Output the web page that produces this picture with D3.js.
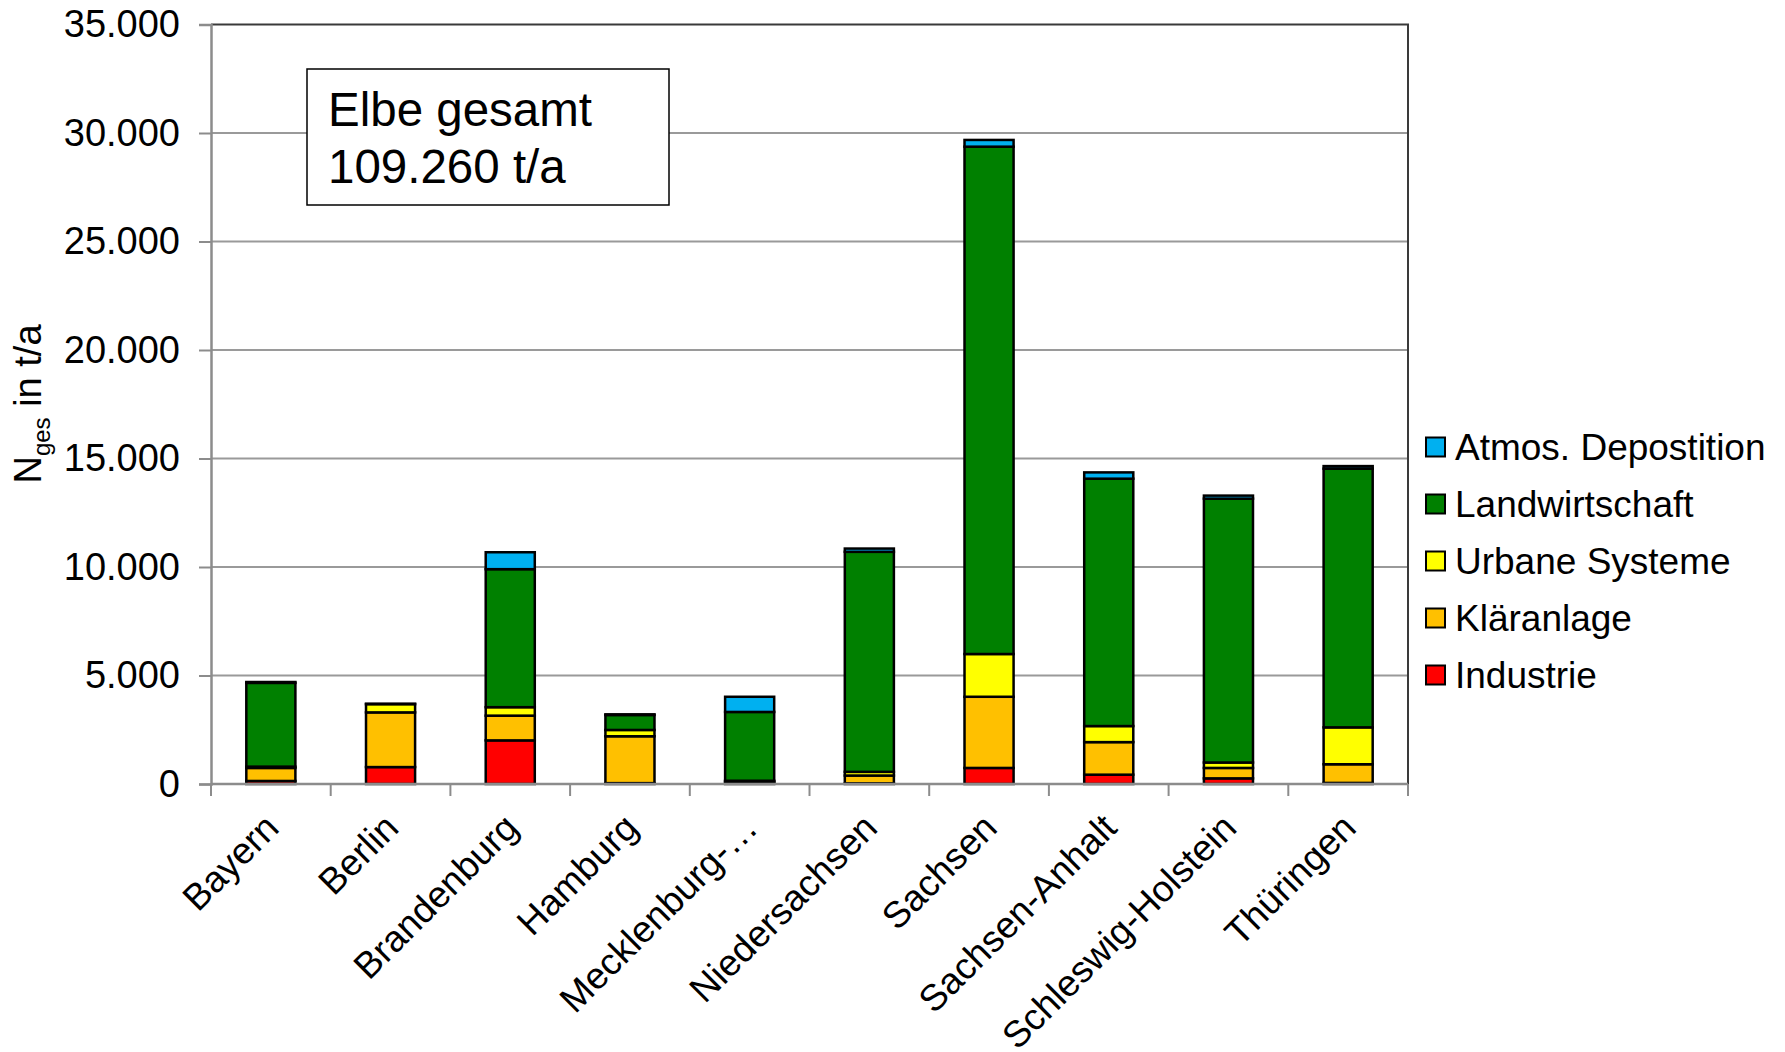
<!DOCTYPE html>
<html>
<head>
<meta charset="utf-8">
<script src="https://cdn.jsdelivr.net/npm/d3@7/dist/d3.min.js"></script>
<style>
  html, body { margin: 0; padding: 0; background: #ffffff; }
  svg { display: block; font-family: "Liberation Sans", Arial, sans-serif; }
</style>
</head>
<body>
<svg id="chart" width="1785" height="1052"></svg>
<script>
// Nitrogen load (N_ges, t/a) in the Elbe basin by federal state and source
const categories = ["Bayern", "Berlin", "Brandenburg", "Hamburg", "Mecklenburg-\u2026",
  "Niedersachsen", "Sachsen", "Sachsen-Anhalt", "Schleswig-Holstein", "Th\u00fcringen"];

const seriesNames = ["Industrie", "Kl\u00e4ranlage", "Urbane Systeme", "Landwirtschaft", "Atmos. Depostition"];
const seriesColors = ["#FF0000", "#FFC000", "#FFFF00", "#008000", "#00B0F0"];

const industrie      = [140, 780, 2010, 40, 30, 30, 740, 430, 260, 50];
const klaeranlage    = [600, 2520, 1140, 2160, 80, 360, 3280, 1500, 480, 860];
const urbaneSysteme  = [60, 380, 390, 290, 40, 170, 1970, 740, 250, 1700];
const landwirtschaft = [3860, 20, 6360, 690, 3170, 10140, 23380, 11400, 12160, 11920];
const atmosDeposition = [40, 0, 780, 30, 700, 150, 310, 290, 140, 120];

const yTicks = [0, 5000, 10000, 15000, 20000, 25000, 30000, 35000];
const annotationLines = ["Elbe gesamt", "109.260 t/a"];

const rows = categories.map((c, i) => ({
  cat: c,
  "Industrie": industrie[i],
  "Kl\u00e4ranlage": klaeranlage[i],
  "Urbane Systeme": urbaneSysteme[i],
  "Landwirtschaft": landwirtschaft[i],
  "Atmos. Depostition": atmosDeposition[i]
}));

const svg = d3.select("#chart");
const plot = { left: 211, right: 1408, top: 24.5, bottom: 784 };

const x = d3.scaleBand().domain(categories).range([plot.left, plot.right])
  .paddingInner(0.59).paddingOuter(0.295);
const y = d3.scaleLinear().domain([0, 35000]).range([plot.bottom, plot.top]);
const color = d3.scaleOrdinal().domain(seriesNames).range(seriesColors);

// horizontal gridlines
svg.append("g").selectAll("line").data(yTicks.slice(1, -1)).join("line")
  .attr("x1", plot.left).attr("x2", plot.right)
  .attr("y1", d => y(d)).attr("y2", d => y(d))
  .attr("stroke", "#9a9a9a").attr("stroke-width", 2);

// plot frame: top and right edges
svg.append("path")
  .attr("d", `M${plot.left},${y(35000)}H${plot.right}V${plot.bottom}`)
  .attr("fill", "none").attr("stroke", "#3a3a3a").attr("stroke-width", 2);

// stacked bars
const stacked = d3.stack().keys(seriesNames)(rows);
svg.append("g").selectAll("g").data(stacked).join("g")
  .attr("fill", d => color(d.key))
  .selectAll("rect").data(d => d).join("rect")
  .attr("x", d => x(d.data.cat))
  .attr("width", x.bandwidth())
  .attr("y", d => y(d[1]))
  .attr("height", d => Math.max(0, y(d[0]) - y(d[1])))
  .attr("stroke", "#000").attr("stroke-width", 2.5);

// y axis
const yAxis = d3.axisLeft(y).tickValues(yTicks).tickSize(12).tickPadding(19)
  .tickFormat(d => d3.format(",")(d).replace(/,/g, "."));
const gy = svg.append("g").attr("transform", `translate(${plot.left},0)`).call(yAxis);
gy.select(".domain").attr("stroke", "#8c8c8c").attr("stroke-width", 2.5);
gy.selectAll(".tick line").attr("stroke", "#8c8c8c").attr("stroke-width", 2);
gy.selectAll(".tick text").attr("font-size", 38).attr("fill", "#000")
  .attr("font-family", "Liberation Sans, Arial, sans-serif");

// x axis with tick marks on category boundaries
const gx = svg.append("g").attr("transform", `translate(0,${plot.bottom})`);
gx.append("line").attr("x1", plot.left).attr("x2", plot.right)
  .attr("stroke", "#8c8c8c").attr("stroke-width", 2.5);
const boundaries = d3.range(categories.length + 1).map(i => plot.left + i * x.step());
gx.selectAll("line.tk").data(boundaries).join("line").attr("class", "tk")
  .attr("x1", d => d).attr("x2", d => d).attr("y1", 0).attr("y2", 12)
  .attr("stroke", "#8c8c8c").attr("stroke-width", 2);
gx.selectAll("text").data(categories).join("text")
  .attr("transform", d => `translate(${x(d) + x.bandwidth() / 2 + 10},${46}) rotate(-45)`)
  .attr("text-anchor", "end")
  .attr("font-size", 37)
  .text(d => d);

// y axis title with subscript
const yt = svg.append("text")
  .attr("transform", "translate(41,404) rotate(-90)")
  .attr("text-anchor", "middle").attr("font-size", 38);
yt.append("tspan").text("N");
yt.append("tspan").attr("font-size", 24).attr("dy", 9).text("ges");
yt.append("tspan").attr("dy", -9).text(" in t/a");

// annotation box
const ann = svg.append("g");
ann.append("rect").attr("x", 307).attr("y", 69).attr("width", 362).attr("height", 136)
  .attr("fill", "#fff").attr("stroke", "#000").attr("stroke-width", 1.5);
ann.selectAll("text").data(annotationLines).join("text")
  .attr("x", 328).attr("y", (d, i) => 126 + i * 57)
  .attr("font-size", 47.5).text(d => d);

// legend
const legendOrder = seriesNames.slice().reverse();
const lg = svg.append("g").selectAll("g").data(legendOrder).join("g")
  .attr("transform", (d, i) => `translate(1426,${447 + i * 57})`);
lg.append("rect").attr("x", 0).attr("y", -9.5).attr("width", 19).attr("height", 19)
  .attr("fill", d => color(d)).attr("stroke", "#000").attr("stroke-width", 2);
lg.append("text").attr("x", 29).attr("y", 0).attr("dy", "0.36em")
  .attr("font-size", 37).text(d => d);
</script>
</body>
</html>
